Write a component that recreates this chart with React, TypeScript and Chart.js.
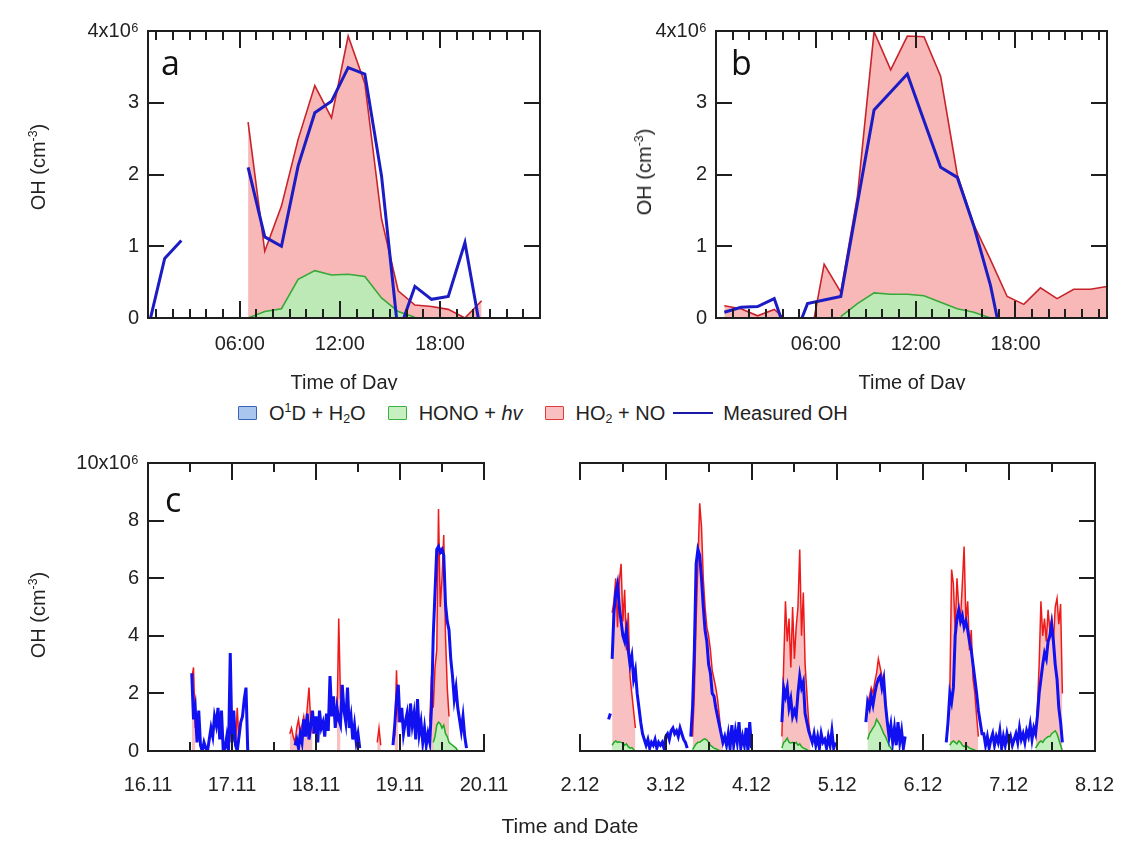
import React, { useEffect, useRef } from "react";
import { Chart, registerables } from "chart.js";
Chart.register(...registerables);

const TXT = "'Liberation Sans', Arial, sans-serif";
const LETTER = "'Open Sans', 'Noto Sans', sans-serif";
const TICK_SIZE = 20;

// ---------------- Panel a (hour of day) ----------------
const hoursA = [0.5, 1.5, 2.5, 3.5, 4.5, 5.5, 6.5, 7.5, 8.5, 9.5, 10.5, 11.5, 12.5, 13.5, 14.5, 15.5, 16.5, 17.5, 18.5, 19.5, 20.5];
const aMeasuredOH = [-0.15, 0.83, 1.08, null, null, null, 2.1, 1.13, 1.0, 2.12, 2.86, 3.02, 3.49, 3.4, 1.98, -0.22, 0.44, 0.26, 0.3, 1.05, -0.26];
const aHO2NO = [null, null, null, null, null, null, 2.73, 0.93, 1.56, 2.49, 3.24, 2.79, 3.93, 3.27, 1.38, 0.38, 0.18, 0.16, 0.12, 0.0, 0.24];
const aHONO = [null, null, null, null, null, null, 0.0, 0.09, 0.13, 0.54, 0.66, 0.6, 0.61, 0.58, 0.28, 0.09, 0.01, null, null, null, null];

// ---------------- Panel b (hour of day) ----------------
const hoursB = [0.5, 1.5, 2.5, 3.5, 4.5, 5.5, 6.5, 7.5, 8.5, 9.5, 10.5, 11.5, 12.5, 13.5, 14.5, 15.5, 16.5, 17.5, 18.5, 19.5, 20.5, 21.5, 22.5, 23.5];
const bMeasuredOH = [0.08, 0.15, 0.16, 0.27, -0.4, 0.2, 0.25, 0.3, 1.6, 2.9, 3.15, 3.4, 2.75, 2.1, 1.96, 1.28, 0.45, -0.67, null, null, null, null, null, null];
const bHO2NO = [0.17, 0.13, 0.03, 0.12, -0.08, -0.5, 0.75, 0.36, 1.7, 3.99, 3.46, 3.93, 3.92, 3.37, 2.0, 1.3, 0.81, 0.3, 0.19, 0.42, 0.27, 0.4, 0.4, 0.44];
const bHONO = [null, null, null, null, null, null, null, 0.02, 0.2, 0.35, 0.33, 0.33, 0.31, 0.22, 0.13, 0.08, 0.0, null, null, null, null, null, null, null];

const hourTicks = [6, 12, 18];
const hourTickLabels = ["06:00", "12:00", "18:00"];
const hourMinor = [1, 2, 3, 4, 5, 7, 8, 9, 10, 11, 13, 14, 15, 16, 17, 19, 20, 21, 22, 23];
const abYTicks = [0, 1, 2, 3, 4];
const abYLabels = ["0", "1", "2", "3", "4x10\u2076"];

// ---------------- Panel c (30-min slots; [first slot, values]) ----------------
type Seg = [number, number[]];
const SLOTS_PER_DAY = 48;

// left part: day 0 = 16.11 00:00
const cLeftMeasured: Seg[] = [
  [25, [2.7, 1.1, 1.5, 0.3, 1.4, 0.2, 0.0, 0.3, 0.1, 0.0, 0.4, 0.8, 0.5, 1.2, 0.9, 1.5, 0.4, 1.4, 0.0, 0.1, 0.5, 0.0, 3.4, 0.3, 1.4, 0.2, 0.0, 0.5, 1.0, 1.2, 1.8, 2.2, 0.0]],
  [84, [0.2, 0.4, 0.1, 0.6, 0.3, 1.1, 0.5, 1.3, 0.4, 0.9, 1.4, 0.6, 1.2, 0.3, 1.4, 0.8, 1.0, 0.5, 1.3, 0.7, 2.6, 1.2, 1.9, 0.8, 1.5, 1.1, 0.9, 2.3, 1.4, 1.0, 2.2, 0.8, 1.2, 0.4, 0.9, 0.3, 0.6, 0.1]],
  [140, [0.2, 0.9, 1.8, 2.3, 1.0, 1.5, 0.6, 1.0, 1.3, 0.5, 1.65, 0.9, 1.3, 0.4, 1.8, 0.6, 1.0, 0.3, 0.8, 0.2, 0.6, 0.3, 1.5, 4.0, 5.5, 7.0, 7.1, 6.9, 7.0, 6.8, 5.1, 4.5, 4.2, 3.2, 2.6, 1.8, 2.2, 1.5, 1.1, 0.7, 1.2, 0.5, 0.1]],
];
const cLeftHO2NO: Seg[] = [
  [25, [2.5, 2.9, 0.8]],
  [50, [0.2, 1.5, 0.3]],
  [81, [0.6, 0.8, 0.5, 0.3, 0.8, 1.1, 0.6, 0.9, 1.2, 0.7, 1.5, 2.2, 1.0, 0.6]],
  [108, [1.0, 4.6, 1.8]],
  [131, [0.3, 0.8, 0.2]],
  [141, [0.5, 2.8, 1.0]],
  [161, [1.0, 2.6, 1.5, 2.9, 3.5, 8.4, 5.0, 6.0, 7.5, 4.0, 2.2, 1.2]],
];
const cLeftHONO: Seg[] = [
  [163, [0.3, 0.5, 0.9, 1.0, 0.95, 0.8, 0.9, 0.6, 0.5, 0.3, 0.25, 0.2, 0.15, 0.1, 0.0]],
];

// right part: day 0 = 2.12 00:00
const cRightMeasured: Seg[] = [
  [16, [1.1, 1.3]],
  [18, [3.2, 4.8, 5.5, 5.8, 5.0, 4.5, 4.0, 3.8, 4.2, 3.5, 3.0, 3.3, 2.5, 2.8, 2.0, 1.5, 1.0, 0.6, 0.4, 0.2, 0.4, 0.1, 0.3, 0.2, 0.4, 0.1, 0.3, 0.2, 0.3, 0.1, 0.5, 0.6, 0.4, 0.7, 0.8, 0.6, 0.7, 0.5, 0.8, 0.6, 0.4, 0.3, 0.1]],
  [62, [0.5, 1.5, 3.5, 6.5, 7.0, 6.8, 6.0, 5.0, 4.2, 3.8, 3.0, 2.7, 2.0, 1.9, 1.5, 1.2, 0.9, 0.6, 0.3, 0.5, 0.2, 0.6, 0.1, 0.9, 0.2, 0.7, 0.3, 1.0, 0.1, 0.5, 0.2, 0.8, 0.0, 1.0, 0.1]],
  [113, [1.0, 2.2, 1.9, 2.2, 1.5, 1.8, 1.2, 1.4, 1.2, 2.0, 2.6, 2.2, 2.4, 1.3, 1.0, 0.7, 0.5, 0.3, 0.6, 0.2, 0.5, 0.1, 0.6, 0.3, 0.4, 0.1, 0.5, 0.2, 0.7, 0.1, 0.3]],
  [160, [1.0, 1.7, 1.5, 1.9, 1.6, 2.0, 2.3, 2.5, 2.6, 2.2, 2.5, 1.6, 1.0, 0.5, 0.9, 0.3, 0.8, 0.2, 1.0, 0.3, 0.7, 0.1, 0.5]],
  [205, [0.3, 1.0, 2.0, 1.7, 2.2, 4.0, 4.6, 4.9, 4.5, 4.7, 4.3, 4.5, 4.2, 3.8, 3.5, 3.0, 2.5, 2.0, 1.4, 1.0, 0.6, 0.6, 0.2, 0.5, 0.1, 0.4, 0.6, 0.2, 0.5, 0.3, 0.7, 0.1, 0.5, 0.2, 0.6, 0.3, 0.5, 0.2, 0.4, 0.6, 0.3, 0.8, 0.4, 0.6, 0.3, 0.7, 0.5, 0.9, 0.4, 0.8, 0.6, 1.2, 2.0, 2.5, 3.0, 3.4, 3.2, 3.8, 4.0, 4.4, 3.8, 3.0, 2.5, 1.5, 1.0, 0.3]],
];
const cRightHO2NO: Seg[] = [
  [18, [4.8, 5.2, 6.0, 4.3, 5.9, 6.5, 4.5, 5.6, 3.5, 4.8, 2.6, 2.0, 1.4, 0.8]],
  [63, [0.5, 2.0, 4.5, 6.5, 8.6, 7.8, 6.0, 5.0, 4.3, 4.0, 3.5, 2.8, 2.5, 2.2, 1.8, 1.2, 0.6, 0.2]],
  [113, [0.5, 3.0, 5.2, 3.8, 4.6, 2.9, 5.0, 3.2, 4.3, 5.0, 7.0, 4.0, 5.5, 3.0, 2.0, 1.0, 0.5]],
  [161, [1.6, 1.9, 2.2, 2.0, 2.4, 2.7, 3.2, 2.9, 2.6, 2.2, 1.7, 1.0, 0.5]],
  [207, [2.0, 6.3, 5.8, 4.2, 6.0, 5.0, 4.6, 5.8, 7.1, 4.5, 5.2, 3.5, 4.2, 2.5, 2.0, 1.2, 0.5]],
  [255, [0.5, 1.5, 3.0, 5.2, 4.0, 4.6, 3.8, 4.9, 4.2, 4.6, 3.8, 5.0, 5.3, 4.4, 5.1, 2.0]],
];
const cRightHONO: Seg[] = [
  [18, [0.2, 0.3, 0.35, 0.3, 0.32, 0.3, 0.28, 0.2, 0.25, 0.15, 0.1, 0.12, 0.05, 0.0]],
  [63, [0.05, 0.15, 0.25, 0.3, 0.3, 0.35, 0.4, 0.42, 0.38, 0.3, 0.2, 0.15, 0.1, 0.08, 0.05, 0.02, 0.0]],
  [113, [0.1, 0.3, 0.35, 0.45, 0.3, 0.28, 0.3, 0.25, 0.3, 0.2, 0.25, 0.15, 0.1, 0.08, 0.05, 0.0]],
  [161, [0.4, 0.6, 0.7, 0.8, 0.9, 1.1, 1.0, 0.9, 0.75, 0.6, 0.5, 0.35, 0.2, 0.1, 0.0]],
  [207, [0.2, 0.3, 0.35, 0.3, 0.25, 0.35, 0.3, 0.2, 0.15, 0.2, 0.15, 0.1, 0.08, 0.05, 0.03, 0.0]],
  [255, [0.1, 0.2, 0.3, 0.35, 0.3, 0.4, 0.45, 0.5, 0.5, 0.6, 0.65, 0.7, 0.6, 0.4, 0.2, 0.0]],
];

const cLeftDays = [0, 1, 2, 3, 4];
const cLeftDayLabels = ["16.11", "17.11", "18.11", "19.11", "20.11"];
const cLeftHalfDays = [0.5, 1.5, 2.5, 3.5];
const cRightDays = [0, 1, 2, 3, 4, 5, 6];
const cRightDayLabels = ["2.12", "3.12", "4.12", "5.12", "6.12", "7.12", "8.12"];
const cRightHalfDays = [0.5, 1.5, 2.5, 3.5, 4.5, 5.5];
const cYTicks = [0, 2, 4, 6, 8, 10];
const cYLabels = ["0", "2", "4", "6", "8", "10x10\u2076"];

// ---------------- helpers ----------------
const xy = (xs: number[], ys: (number | null)[]) => xs.map((x, i) => ({ x, y: ys[i] }));
function segPoints(segs: Seg[]) {
  const pts: { x: number; y: number | null }[] = [];
  segs.forEach(([start, vals]) => {
    vals.forEach((v, i) => pts.push({ x: (start + i) / SLOTS_PER_DAY, y: v }));
    pts.push({ x: (start + vals.length) / SLOTS_PER_DAY, y: null });
  });
  return pts;
}

const framePlugin = {
  id: "frame",
  afterDatasetsDraw(chart: any, _a: any, o: any) {
    const { ctx, chartArea: ca, scales } = chart;
    const xs = scales.x, ys = scales.y;
    ctx.save();
    ctx.strokeStyle = "#1e1e1e";
    ctx.lineWidth = 2;
    ctx.lineCap = "square";
    const L = Math.round(ca.left), R = Math.round(ca.right), T = Math.round(ca.top), B = Math.round(ca.bottom);
    const seg = (x1: number, y1: number, x2: number, y2: number) => {
      ctx.beginPath(); ctx.moveTo(x1, y1); ctx.lineTo(x2, y2); ctx.stroke();
    };
    if (o.sides.includes("left")) seg(L, T, L, B);
    if (o.sides.includes("right")) seg(R, T, R, B);
    if (o.sides.includes("top")) seg(L, T, R, T);
    if (o.sides.includes("bottom")) seg(L, B, R, B);
    ctx.lineCap = "butt";
    const drawX = (vals: number[], len: number) => vals.forEach((v) => {
      const px = Math.round(xs.getPixelForValue(v));
      if (o.xEdges.includes("top")) seg(px, T, px, T + len);
      if (o.xEdges.includes("bottom")) seg(px, B, px, B - len);
    });
    drawX(o.xMajor, 17);
    drawX(o.xMinor, 9);
    o.yMajor.forEach((v: number) => {
      const py = Math.round(ys.getPixelForValue(v));
      if (o.yEdges.includes("left")) seg(L, py, L + 16, py);
      if (o.yEdges.includes("right")) seg(R, py, R - 16, py);
    });
    ctx.restore();
  },
};

function makeConfig(p: any) {
  return {
    type: "line",
    data: { datasets: p.datasets },
    plugins: [framePlugin],
    options: {
      responsive: false,
      animation: false,
      devicePixelRatio: 1,
      layout: { padding: p.padding },
      plugins: { legend: { display: false }, tooltip: { enabled: false }, frame: p.frame },
      elements: { point: { radius: 0 }, line: { tension: 0 } },
      scales: {
        x: {
          type: "linear", min: p.xmin, max: p.xmax,
          afterBuildTicks: (s: any) => { s.ticks = p.xTicks.map((v: number) => ({ value: v })); },
          afterFit: (s: any) => { s.height = 40; },
          grid: { display: false, drawTicks: false }, border: { display: false },
          ticks: {
            autoSkip: false, maxRotation: 0, minRotation: 0, padding: p.xPad, color: "#222",
            font: { family: TXT, size: TICK_SIZE },
            callback: (v: number) => p.xLabels[p.xTicks.indexOf(v)] ?? "",
          },
        },
        y: {
          type: "linear", min: p.ymin, max: p.ymax, display: p.yLabels ? true : false,
          afterBuildTicks: (s: any) => { s.ticks = p.yTicks.map((v: number) => ({ value: v })); },
          afterFit: (s: any) => { s.width = p.yLabels ? 110 : 0; },
          grid: { display: false, drawTicks: false }, border: { display: false },
          ticks: {
            padding: 9, color: "#222", font: { family: TXT, size: TICK_SIZE },
            callback: (v: number) => (p.yLabels ? p.yLabels[p.yTicks.indexOf(v)] ?? "" : ""),
          },
        },
      },
    },
  };
}

function abDatasets(hours: number[], ho2: any[], hono: any[], meas: any[]) {
  return [
    { data: xy(hours, ho2), borderColor: "#c8232b", backgroundColor: "#f8b8b8", borderWidth: 1.6, fill: "origin", order: 3, spanGaps: false },
    { data: xy(hours, hono), borderColor: "#38a838", backgroundColor: "#bde9b6", borderWidth: 1.6, fill: "origin", order: 2, spanGaps: false },
    { data: xy(hours, meas), borderColor: "#1c1cc4", borderWidth: 3, fill: false, order: 1, spanGaps: false },
  ];
}
function cDatasets(ho2: Seg[], hono: Seg[], meas: Seg[]) {
  return [
    { data: segPoints(ho2), borderColor: "#ee1a1a", backgroundColor: "#f8c0c0", borderWidth: 1.5, fill: "origin", order: 3, spanGaps: false },
    { data: segPoints(hono), borderColor: "#22aa22", backgroundColor: "#c4efbe", borderWidth: 1.5, fill: "origin", order: 2, spanGaps: false },
    { data: segPoints(meas), borderColor: "#1010f0", borderWidth: 3, fill: false, order: 1, spanGaps: false },
  ];
}

const configs = [
  makeConfig({
    datasets: abDatasets(hoursA, aHO2NO, aHONO, aMeasuredOH),
    xmin: 0.5, xmax: 24, ymin: 0, ymax: 4,
    padding: { left: 38, right: 596, top: 31, bottom: 487 },
    xTicks: hourTicks, xLabels: hourTickLabels, xPad: 14, yTicks: abYTicks, yLabels: abYLabels,
    frame: { sides: ["left", "right", "top", "bottom"], xEdges: ["top", "bottom"], xMajor: hourTicks, xMinor: hourMinor, yMajor: abYTicks, yEdges: ["left", "right"] },
  }),
  makeConfig({
    datasets: abDatasets(hoursB, bHO2NO, bHONO, bMeasuredOH),
    xmin: 0, xmax: 23.5, ymin: 0, ymax: 4,
    padding: { left: 606, right: 29, top: 31, bottom: 487 },
    xTicks: hourTicks, xLabels: hourTickLabels, xPad: 14, yTicks: abYTicks, yLabels: abYLabels,
    frame: { sides: ["left", "right", "top", "bottom"], xEdges: ["top", "bottom"], xMajor: hourTicks, xMinor: hourMinor, yMajor: abYTicks, yEdges: ["left", "right"] },
  }),
  makeConfig({
    datasets: cDatasets(cLeftHO2NO, cLeftHONO, cLeftMeasured),
    xmin: 0, xmax: 4, ymin: 0, ymax: 10,
    padding: { left: 38, right: 652, top: 463, bottom: 54 },
    xTicks: cLeftDays, xLabels: cLeftDayLabels, xPad: 22, yTicks: cYTicks, yLabels: cYLabels,
    frame: { sides: ["left", "top", "bottom"], xEdges: ["top", "bottom"], xMajor: cLeftDays, xMinor: cLeftHalfDays, yMajor: cYTicks, yEdges: ["left"] },
  }),
  makeConfig({
    datasets: cDatasets(cRightHO2NO, cRightHONO, cRightMeasured),
    xmin: 0, xmax: 6, ymin: 0, ymax: 10,
    padding: { left: 580, right: 28, top: 463, bottom: 54 },
    xTicks: cRightDays, xLabels: cRightDayLabels, xPad: 22, yTicks: cYTicks, yLabels: null,
    frame: { sides: ["right", "top", "bottom"], xEdges: ["top", "bottom"], xMajor: cRightDays, xMinor: cRightHalfDays, yMajor: cYTicks, yEdges: ["right"] },
  }),
];

function ChartLayer({ config }: { config: any }) {
  const ref = useRef<HTMLCanvasElement>(null);
  useEffect(() => {
    const chart = new Chart(ref.current as HTMLCanvasElement, config);
    return () => chart.destroy();
  }, [config]);
  return <canvas ref={ref} width={1136} height={845} style={{ position: "absolute", left: 0, top: 0, width: 1136, height: 845 }} />;
}

const txt: React.CSSProperties = { position: "absolute", fontFamily: TXT, fontSize: 20, color: "#222", whiteSpace: "nowrap", lineHeight: "24px" };
const sup: React.CSSProperties = { fontSize: "0.62em", verticalAlign: "0.65em", lineHeight: 0 };
const sub: React.CSSProperties = { fontSize: "0.62em", verticalAlign: "-0.25em", lineHeight: 0 };

function YTitle({ cx, cy }: { cx: number; cy: number }) {
  return (
    <div style={{ ...txt, left: cx, top: cy, transform: "translate(-50%, -50%) rotate(-90deg)" }}>
      OH (cm<span style={sup}>-3</span>)
    </div>
  );
}
function Swatch({ fill, stroke }: { fill: string; stroke: string }) {
  return <span style={{ display: "inline-block", width: 17, height: 12, background: fill, border: `1.5px solid ${stroke}`, borderRadius: 1, marginRight: 12 }} />;
}

export default function App() {
  return (
    <div style={{ position: "absolute", left: 0, top: 0, width: 1136, height: 845, background: "#fff", overflow: "hidden" }}>
      {configs.map((c, i) => <ChartLayer key={i} config={c} />)}
      <div style={{ position: "absolute", left: 161, top: 45, fontFamily: LETTER, fontSize: 34, lineHeight: "34px", color: "#111" }}>a</div>
      <div style={{ position: "absolute", left: 731, top: 45, fontFamily: LETTER, fontSize: 34, lineHeight: "34px", color: "#111" }}>b</div>
      <div style={{ position: "absolute", left: 165, top: 482, fontFamily: LETTER, fontSize: 34, lineHeight: "34px", color: "#111" }}>c</div>
      <YTitle cx={38} cy={167} />
      <YTitle cx={644} cy={172} />
      <YTitle cx={38} cy={615} />
      <div style={{ ...txt, left: 344, top: 370, transform: "translateX(-50%)" }}>Time of Day</div>
      <div style={{ ...txt, left: 912, top: 370, transform: "translateX(-50%)" }}>Time of Day</div>
      <div style={{ ...txt, fontSize: 21, left: 570, top: 814, transform: "translateX(-50%)" }}>Time and Date</div>
      {/* legend panel (white backing clips the axis-title descenders like the original) */}
      <div style={{ position: "absolute", left: 200, top: 390, width: 800, height: 46, background: "#fff" }} />
      <div style={{ position: "absolute", left: 238, top: 399, height: 28, display: "flex", alignItems: "center", fontFamily: TXT, fontSize: 20, color: "#222", whiteSpace: "nowrap" }}>
        <Swatch fill="#a9c7ee" stroke="#3b64b8" />
        <span>O<span style={sup}>1</span>D + H<span style={sub}>2</span>O</span>
        <span style={{ width: 22 }} />
        <Swatch fill="#c6f0c0" stroke="#3cb043" />
        <span>HONO + <i>hv</i></span>
        <span style={{ width: 22 }} />
        <Swatch fill="#f8c0c0" stroke="#e03a3a" />
        <span>HO<span style={sub}>2</span> + NO</span>
        <span style={{ display: "inline-block", width: 40, height: 0, borderTop: "2px solid #1a1aa8", margin: "0 10px 0 8px" }} />
        <span>Measured OH</span>
      </div>
    </div>
  );
}
